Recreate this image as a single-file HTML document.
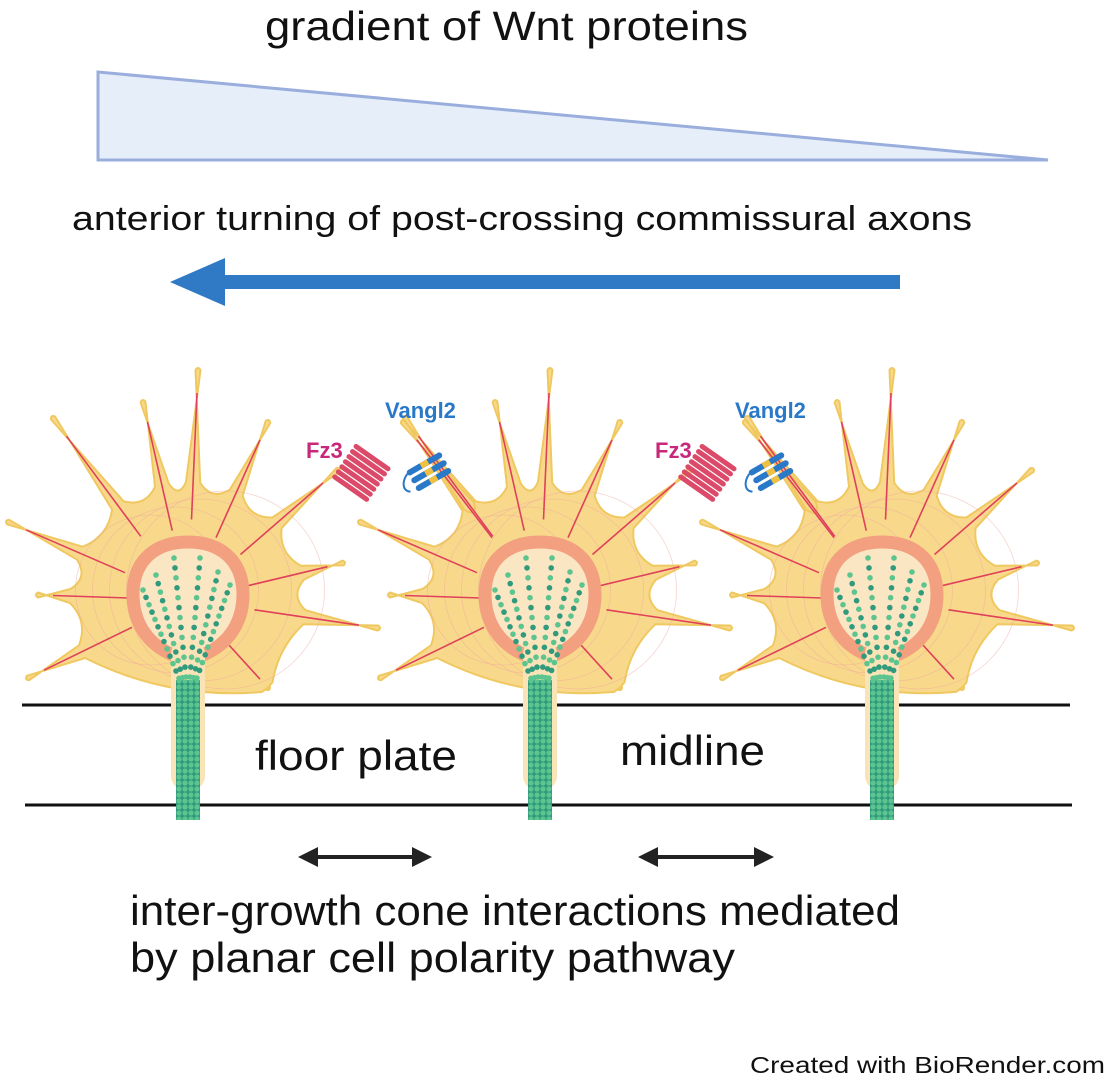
<!DOCTYPE html>
<html><head><meta charset="utf-8"><style>
html,body{margin:0;padding:0;background:#fff;}
svg{display:block;}
text{font-family:"Liberation Sans",sans-serif;}
</style></head><body>
<svg id="s" width="1119" height="1085" viewBox="0 0 1119 1085" xmlns="http://www.w3.org/2000/svg">
<defs>
<pattern id="mt" width="6" height="6" patternUnits="userSpaceOnUse">
<rect width="6" height="6" fill="#2f9a7c"/>
<circle cx="3" cy="3" r="2.6" fill="#5cc48e"/>
</pattern>
</defs>
<text x="265" y="40" font-size="41" textLength="483" lengthAdjust="spacingAndGlyphs" fill="#111">gradient of Wnt proteins</text>
<polygon points="98,72 98,160 1048,160" fill="#e6eefa" stroke="#9aaede" stroke-width="3"/>
<text x="72" y="230" font-size="34" textLength="900" lengthAdjust="spacingAndGlyphs" fill="#111">anterior turning of post-crossing commissural axons</text>
<line x1="900" y1="282" x2="215" y2="282" stroke="#3079c4" stroke-width="14"/>
<polygon points="170,282 225,258 225,306" fill="#3079c4"/>
<g id="cones"></g>
<line x1="22" y1="705" x2="1070" y2="705" stroke="#111" stroke-width="3"/>
<line x1="25" y1="805" x2="1072" y2="805" stroke="#111" stroke-width="3"/>
<g id="axons"></g>
<text x="255" y="770" font-size="42" textLength="202" lengthAdjust="spacingAndGlyphs" fill="#111">floor plate</text>
<text x="620" y="765" font-size="42" textLength="145" lengthAdjust="spacingAndGlyphs" fill="#111">midline</text>
<g stroke="#222" stroke-width="4">
<line x1="312" y1="857" x2="418" y2="857"/><line x1="652" y1="857" x2="760" y2="857"/></g>
<g fill="#222">
<polygon points="298,857 318,847 318,867"/><polygon points="432,857 412,847 412,867"/>
<polygon points="638,857 658,847 658,867"/><polygon points="774,857 754,847 754,867"/></g>
<text x="130" y="925" font-size="42" textLength="770" lengthAdjust="spacingAndGlyphs" fill="#111">inter-growth cone interactions mediated</text>
<text x="130" y="972" font-size="42" textLength="605" lengthAdjust="spacingAndGlyphs" fill="#111">by planar cell polarity pathway</text>
<text x="750" y="1073" font-size="23" textLength="355" lengthAdjust="spacingAndGlyphs" fill="#111">Created with BioRender.com</text>
<text x="306" y="458" font-size="22" font-weight="bold" fill="#c8287a">Fz3</text>
<text x="385" y="418" font-size="22" font-weight="bold" fill="#2a78c8">Vangl2</text>
<text x="655" y="458" font-size="22" font-weight="bold" fill="#c8287a">Fz3</text>
<text x="735" y="418" font-size="22" font-weight="bold" fill="#2a78c8">Vangl2</text>
<g id="recs"></g>
</svg>
<script>
var NS="http://www.w3.org/2000/svg";
function el(t,a,p){var e=document.createElementNS(NS,t);for(var k in a)e.setAttribute(k,a[k]);p.appendChild(e);return e;}
var cones=document.getElementById('cones'),axons=document.getElementById('axons'),recs=document.getElementById('recs');
var base=[[10,-230],[-135,-182],[-45,-198],[80,-178],[150,-130],[-180,-78],[-150,-5],[155,-37],[190,28],[-160,78],[80,88]];
var extra=[[-137,-178]];
var centers=[[188,600,false],[540,600,true],[882,600,true]];
centers.forEach(function(c){
  var cx=c[0],cy=c[1];
  var f=base.slice(); if(c[2]) f=f.concat(extra);
  f=f.map(function(p){return {x:p[0],y:p[1],a:Math.atan2(p[1],p[0])};}).sort(function(a,b){return a.a-b.a;});
  var g=el('g',{transform:'translate('+cx+','+cy+')'},cones);
  var R=118,d='';
  for(var i=0;i<f.length;i++){
    var p=f[i],q=f[(i+1)%f.length];
    var a1=p.a-0.06,a2=p.a+0.06;
    var b1=[R*Math.cos(a1),R*Math.sin(a1)],b2=[R*Math.cos(a2),R*Math.sin(a2)];
    var nb=q.a-0.06; var nbp=[R*Math.cos(nb),R*Math.sin(nb)];
    var mid=(p.a+ (q.a<p.a?q.a+2*Math.PI:q.a))/2, rm=102;
    var ux=p.x/Math.hypot(p.x,p.y),uy=p.y/Math.hypot(p.x,p.y);
    if(i==0) d+='M'+b1[0].toFixed(1)+','+b1[1].toFixed(1);
    d+=' L'+(p.x-uy*2.5).toFixed(1)+','+(p.y+ux*2.5).toFixed(1)+' Q'+(p.x+ux*4).toFixed(1)+','+(p.y+uy*4).toFixed(1)+' '+(p.x+uy*2.5).toFixed(1)+','+(p.y-ux*2.5).toFixed(1)+' L'+b2[0].toFixed(1)+','+b2[1].toFixed(1);
    d+=' Q'+(rm*Math.cos(mid)).toFixed(1)+','+(rm*Math.sin(mid)).toFixed(1)+' '+nbp[0].toFixed(1)+','+nbp[1].toFixed(1);
  }
  d+='Z';
  el('path',{d:d,fill:'#f8d98c',stroke:'#f0c860','stroke-width':2,'stroke-linejoin':'round'},g);
  for(var k=0;k<4;k++){el('circle',{cx:(k-1.5)*25,cy:-10,r:75+k*8,fill:'none',stroke:'#f0a8a0','stroke-width':0.8,opacity:0.5},g);}
  f.forEach(function(p){el('line',{x1:p.x*0.35,y1:p.y*0.35,x2:p.x*0.9,y2:p.y*0.9,stroke:'#e0405a','stroke-width':1.6},g);});
  el('path',{d:'M-15,55 C-50,40 -55,10 -55,-5 C-55,-42 -30,-58 0,-58 C30,-58 55,-42 55,-5 C55,10 50,40 15,55 Z',fill:'#fbe6c4',stroke:'#f2a080','stroke-width':13},g);
  var gs=el('g',{transform:'translate('+cx+','+cy+')'},axons);
  el('rect',{x:-17,y:40,width:34,height:150,rx:14,fill:'#fbe3b8'},gs);
  var ga=el('g',{transform:'translate('+cx+','+cy+')'},axons);
  el('rect',{x:-12,y:80,width:24,height:140,fill:'url(#mt)'},ga);
  [-45,-32,-14,12,30,42].forEach(function(tx,j){
    var ty=[-10,-25,-42,-42,-28,-15][j];
    for(var t=0;t<=1.001;t+=0.08){el('circle',{cx:(tx*(1-t)+(j-2.5)*3*t).toFixed(1),cy:(ty*(1-t)+82*t).toFixed(1),r:2.8,fill:(Math.round(t*12.5)%2?'#2f9a7c':'#5cc48e')},ga);}
  });
});
function fz(x,y,col,n){var g=el('g',{transform:'translate('+x+','+y+') rotate(35)'},recs);
  for(var i=0;i<n;i++){el('rect',{x:-22,y:-20+i*6.2,width:44,height:5,rx:2.5,fill:col},g);}}
function vg(x,y){var g=el('g',{transform:'translate('+x+','+y+') rotate(-30)'},recs);
  for(var i=0;i<3;i++){el('rect',{x:-20,y:-10+i*9,width:40,height:6,rx:3,fill:'#2a78c8'},g);el('rect',{x:-4,y:-10+i*9,width:8,height:6,fill:'#f0c040'},g);}
  el('path',{d:'M-20,-7 C-30,-2 -32,6 -26,10',fill:'none',stroke:'#2a78c8','stroke-width':2},g);}
fz(362,472,'#dc4a6a',7); fz(708,472,'#dc4a6a',7);
vg(428,470); vg(770,470);
</script>
</body></html>
